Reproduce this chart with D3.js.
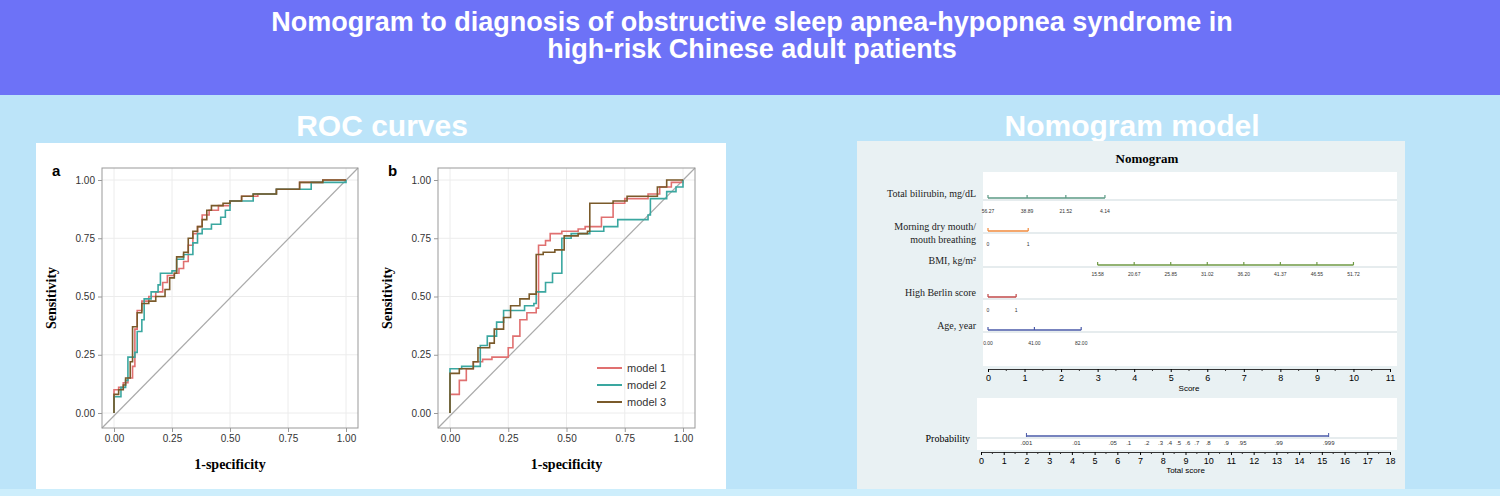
<!DOCTYPE html><html><head><meta charset="utf-8">
<script src="https://cdn.jsdelivr.net/npm/d3@7"></script>
<style>body{margin:0}svg{display:block}</style></head><body>
<svg id="c" width="1500" height="496"></svg>
<script>
const rocTicks=[0,0.25,0.5,0.75,1];
const modelNames=["model 1","model 2","model 3"];
const modelColors=["#e07070","#3aa7a0","#7a5a2a"];
const aM1=[[0,0],[0,0.1],[0.02,0.11],[0.04,0.13],[0.06,0.15],[0.08,0.2],[0.09,0.36],[0.1,0.44],[0.12,0.48],[0.15,0.5],[0.18,0.52],[0.21,0.56],[0.23,0.59],[0.26,0.6],[0.28,0.62],[0.3,0.65],[0.32,0.72],[0.34,0.77],[0.36,0.8],[0.38,0.85],[0.41,0.87],[0.45,0.89],[0.5,0.91],[0.55,0.93],[0.62,0.94],[0.7,0.96],[0.8,0.99],[0.9,1],[1,1]];
const aM2=[[0,0],[0,0.07],[0.03,0.11],[0.05,0.14],[0.06,0.24],[0.09,0.26],[0.1,0.35],[0.12,0.4],[0.13,0.49],[0.16,0.52],[0.19,0.55],[0.2,0.6],[0.25,0.61],[0.27,0.66],[0.3,0.68],[0.34,0.73],[0.36,0.77],[0.38,0.79],[0.42,0.81],[0.46,0.84],[0.48,0.87],[0.5,0.91],[0.6,0.94],[0.7,0.96],[0.85,0.99],[1,1]];
const aM3=[[0,0],[0,0.08],[0.02,0.1],[0.04,0.12],[0.05,0.15],[0.07,0.22],[0.08,0.37],[0.1,0.43],[0.12,0.47],[0.15,0.48],[0.18,0.5],[0.21,0.5],[0.22,0.53],[0.24,0.58],[0.26,0.6],[0.27,0.67],[0.3,0.69],[0.32,0.75],[0.34,0.78],[0.36,0.8],[0.38,0.83],[0.4,0.87],[0.42,0.89],[0.47,0.9],[0.5,0.91],[0.55,0.93],[0.6,0.94],[0.7,0.96],[0.8,0.99],[0.9,1],[1,1]];
const bM1=[[0,0],[0,0.08],[0.04,0.14],[0.07,0.19],[0.1,0.22],[0.14,0.23],[0.18,0.24],[0.22,0.24],[0.25,0.28],[0.27,0.33],[0.3,0.4],[0.33,0.43],[0.37,0.45],[0.38,0.72],[0.41,0.74],[0.43,0.77],[0.48,0.78],[0.55,0.79],[0.58,0.8],[0.65,0.84],[0.7,0.9],[0.75,0.92],[0.85,0.94],[0.9,0.97],[0.95,0.99],[1,1]];
const bM2=[[0,0],[0,0.19],[0.05,0.2],[0.1,0.2],[0.13,0.29],[0.16,0.33],[0.2,0.39],[0.23,0.44],[0.28,0.44],[0.32,0.46],[0.36,0.47],[0.37,0.52],[0.41,0.56],[0.44,0.6],[0.48,0.75],[0.52,0.77],[0.6,0.78],[0.66,0.8],[0.72,0.83],[0.85,0.85],[0.86,0.92],[0.93,0.95],[0.97,0.97],[1,1]];
const bM3=[[0,0],[0,0.17],[0.04,0.19],[0.1,0.22],[0.12,0.28],[0.17,0.3],[0.19,0.36],[0.23,0.41],[0.26,0.46],[0.3,0.49],[0.34,0.51],[0.37,0.51],[0.37,0.68],[0.4,0.69],[0.45,0.7],[0.49,0.76],[0.55,0.77],[0.59,0.78],[0.6,0.9],[0.7,0.91],[0.76,0.93],[0.86,0.93],[0.89,0.97],[0.93,1],[1,1]];

const nomoVars=["Total bilirubin, mg/dL","Morning dry mouth/|mouth breathing","BMI, kg/m²","High Berlin score","Age, year"];
const nomoColors=["#5b9a85","#f08a3c","#6f9a45","#c04848","#4a5aa8"];
const nomoPoints=[[0,1.07,2.13,3.2],[0,1.1],[3,4,5,6,7,8,9,10],[0,0.77],[0,1.27,2.55]];
const nomoLabels=[["56.27","38.89","21.52","4.14"],["0","1"],["15.58","20.67","25.85","31.02","36.20","41.37","46.55","51.72"],["0","1"],["0.00","41.00","82.00"]];
const probPoints=[2,4.2,5.8,6.5,7.3,7.9,8.3,8.7,9.1,9.5,10,10.8,11.5,13.1,15.3];
const probLabels=[".001",".01",".05",".1",".2",".3",".4",".5",".6",".7",".8",".9",".95",".99",".999"];

const svg=d3.select("#c");
svg.append("rect").attr("width",1500).attr("height",496).attr("fill","#bce4f9");
svg.append("rect").attr("width",1500).attr("height",95).attr("fill","#6d72f7");
svg.append("rect").attr("y",489).attr("width",1500).attr("height",7).attr("fill","#cdeefc");
const tt=svg.append("text").attr("text-anchor","middle").attr("fill","#fff").attr("font-family","Liberation Sans,Arial").attr("font-weight","bold").attr("font-size",27);
tt.append("tspan").attr("x",752).attr("y",31).text("Nomogram to diagnosis of obstructive sleep apnea-hypopnea syndrome in");
tt.append("tspan").attr("x",752).attr("y",58).text("high-risk Chinese adult patients");
[["ROC curves",382],["Nomogram model",1132]].forEach(([t,x])=>svg.append("text").attr("x",x).attr("y",136).attr("text-anchor","middle").attr("fill","#fff").attr("font-family","Liberation Sans,Arial").attr("font-weight","bold").attr("font-size",30).text(t));

svg.append("rect").attr("x",36).attr("y",143).attr("width",690).attr("height",346).attr("fill","#fff");
function roc(x0,x1,letter,data,legend){
  const x=d3.scaleLinear().domain([0,1]).range([x0,x1]);
  const y=d3.scaleLinear().domain([0,1]).range([413,180]);
  const g=svg.append("g");
  const fl=x0-12, fr=x1+12, ft=168, fb=428;
  rocTicks.forEach(t=>{
    g.append("line").attr("x1",x(t)).attr("x2",x(t)).attr("y1",ft).attr("y2",fb).attr("stroke","#ececec");
    g.append("line").attr("x1",fl).attr("x2",fr).attr("y1",y(t)).attr("y2",y(t)).attr("stroke","#ececec");
  });
  g.append("line").attr("x1",fl).attr("y1",fb).attr("x2",fr).attr("y2",ft).attr("stroke","#aaa").attr("stroke-width",1.2);
  const line=d3.line().x(d=>x(d[0])).y(d=>y(d[1])).curve(d3.curveStepAfter);
  data.forEach((d,i)=>g.append("path").attr("d",line(d)).attr("fill","none").attr("stroke",modelColors[i]).attr("stroke-width",1.6));
  g.append("rect").attr("x",fl).attr("y",ft).attr("width",fr-fl).attr("height",fb-ft).attr("fill","none").attr("stroke","#999");
  const ax=g.append("g").attr("transform",`translate(0,${fb})`).call(d3.axisBottom(x).tickValues(rocTicks).tickFormat(d3.format(".2f")).tickSize(4));
  const ay=g.append("g").attr("transform",`translate(${fl},0)`).call(d3.axisLeft(y).tickValues(rocTicks).tickFormat(d3.format(".2f")).tickSize(4));
  [ax,ay].forEach(a=>{a.select(".domain").remove();a.selectAll("line").attr("stroke","#999");a.selectAll("text").attr("font-size",10).attr("font-family","Liberation Sans Narrow,Arial").attr("fill","#333");});
  g.append("text").attr("x",(fl+fr)/2).attr("y",469).attr("text-anchor","middle").attr("font-family","Liberation Serif").attr("font-weight","bold").attr("font-size",14).text("1-specificity");
  g.append("text").attr("transform",`translate(${fl-46},${(ft+fb)/2}) rotate(-90)`).attr("text-anchor","middle").attr("font-family","Liberation Serif").attr("font-weight","bold").attr("font-size",14).text("Sensitivity");
  g.append("text").attr("x",fl-50).attr("y",176).attr("font-family","Liberation Sans").attr("font-weight","bold").attr("font-size",15).text(letter);
  if(legend){
    modelNames.forEach((n,i)=>{
      g.append("line").attr("x1",597).attr("x2",622).attr("y1",368+i*17).attr("y2",368+i*17).attr("stroke",modelColors[i]).attr("stroke-width",2);
      g.append("text").attr("x",627).attr("y",372+i*17).attr("font-family","Liberation Sans Narrow,Arial").attr("font-size",11).attr("fill","#333").text(n);
    });
  }
}
roc(114,346,"a",[aM1,aM2,aM3],false);
roc(450,683,"b",[bM1,bM2,bM3],true);

svg.append("rect").attr("x",857).attr("y",141).attr("width",548).attr("height",348).attr("fill","#e9f1f3");
svg.append("text").attr("x",1147).attr("y",163).attr("text-anchor","middle").attr("font-family","Liberation Serif").attr("font-weight","bold").attr("font-size",13).text("Nomogram");
svg.append("rect").attr("x",983).attr("y",172).attr("width",414).attr("height",194).attr("fill","#fff");
svg.append("rect").attr("x",977).attr("y",398).attr("width",420).attr("height",52).attr("fill","#fff");
const sx=d3.scaleLinear().domain([0,11]).range([988,1390]);
const rowY=[198,231,265,297,330];
nomoVars.forEach((v,i)=>{
  const yy=rowY[i];
  svg.append("line").attr("x1",983).attr("x2",1397).attr("y1",yy+2).attr("y2",yy+2).attr("stroke","#e6ecee").attr("stroke-width",2);
  const p=nomoPoints[i];
  svg.append("line").attr("x1",sx(p[0])).attr("x2",sx(p[p.length-1])).attr("y1",yy).attr("y2",yy).attr("stroke",nomoColors[i]).attr("stroke-width",1.5);
  p.forEach((s,j)=>{
    svg.append("line").attr("x1",sx(s)).attr("x2",sx(s)).attr("y1",yy-3).attr("y2",yy).attr("stroke",nomoColors[i]).attr("stroke-width",1.2);
    svg.append("text").attr("x",sx(s)).attr("y",yy+(i==2?11:15)).attr("text-anchor","middle").attr("font-family","Liberation Sans").attr("font-size",5).attr("fill","#333").text(nomoLabels[i][j]);
  });
  const parts=v.split("|");
  parts.forEach((t,k)=>svg.append("text").attr("x",976).attr("y",yy-1+(k-(parts.length-1))*13+(parts.length>1?13:0)).attr("text-anchor","end").attr("font-family","Liberation Serif").attr("font-size",10).attr("fill","#222").text(t));
});
const sAx=svg.append("g").attr("transform","translate(0,369)").call(d3.axisBottom(sx).ticks(11).tickSize(3));
sAx.append("g").selectAll("line").data(d3.range(0.5,11,1)).join("line").attr("x1",d=>sx(d)).attr("x2",d=>sx(d)).attr("y1",0).attr("y2",2).attr("stroke","#333");
svg.append("text").attr("x",sx(5.5)).attr("y",391).attr("text-anchor","middle").attr("font-family","Liberation Sans").attr("font-size",8).text("Score");
const tx=d3.scaleLinear().domain([0,18]).range([981,1390]);
svg.append("line").attr("x1",977).attr("x2",1397).attr("y1",438).attr("y2",438).attr("stroke","#e6ecee").attr("stroke-width",2);
svg.append("line").attr("x1",tx(probPoints[0])).attr("x2",tx(probPoints[probPoints.length-1])).attr("y1",436).attr("y2",436).attr("stroke","#4a5aa8").attr("stroke-width",1.5);
[probPoints[0],probPoints[probPoints.length-1]].forEach(s=>svg.append("line").attr("x1",tx(s)).attr("x2",tx(s)).attr("y1",433).attr("y2",437).attr("stroke","#4a5aa8"));
probPoints.forEach((s,j)=>svg.append("text").attr("x",tx(s)).attr("y",445).attr("text-anchor","middle").attr("font-family","Liberation Sans").attr("font-size",6).attr("fill","#333").text(probLabels[j]));
svg.append("text").attr("x",970).attr("y",442).attr("text-anchor","end").attr("font-family","Liberation Serif").attr("font-size",10).text("Probability");
const tAx=svg.append("g").attr("transform","translate(0,452)").call(d3.axisBottom(tx).ticks(18).tickSize(3));
tAx.append("g").selectAll("line").data(d3.range(0.5,18,1)).join("line").attr("x1",d=>tx(d)).attr("x2",d=>tx(d)).attr("y1",0).attr("y2",2).attr("stroke","#333");
svg.append("text").attr("x",tx(9)).attr("y",473).attr("text-anchor","middle").attr("font-family","Liberation Sans").attr("font-size",8).text("Total score");
[sAx,tAx].forEach(a=>{a.selectAll("text").attr("font-size",9).attr("font-family","Liberation Sans");a.select(".domain").attr("stroke","#333");});
</script></body></html>
